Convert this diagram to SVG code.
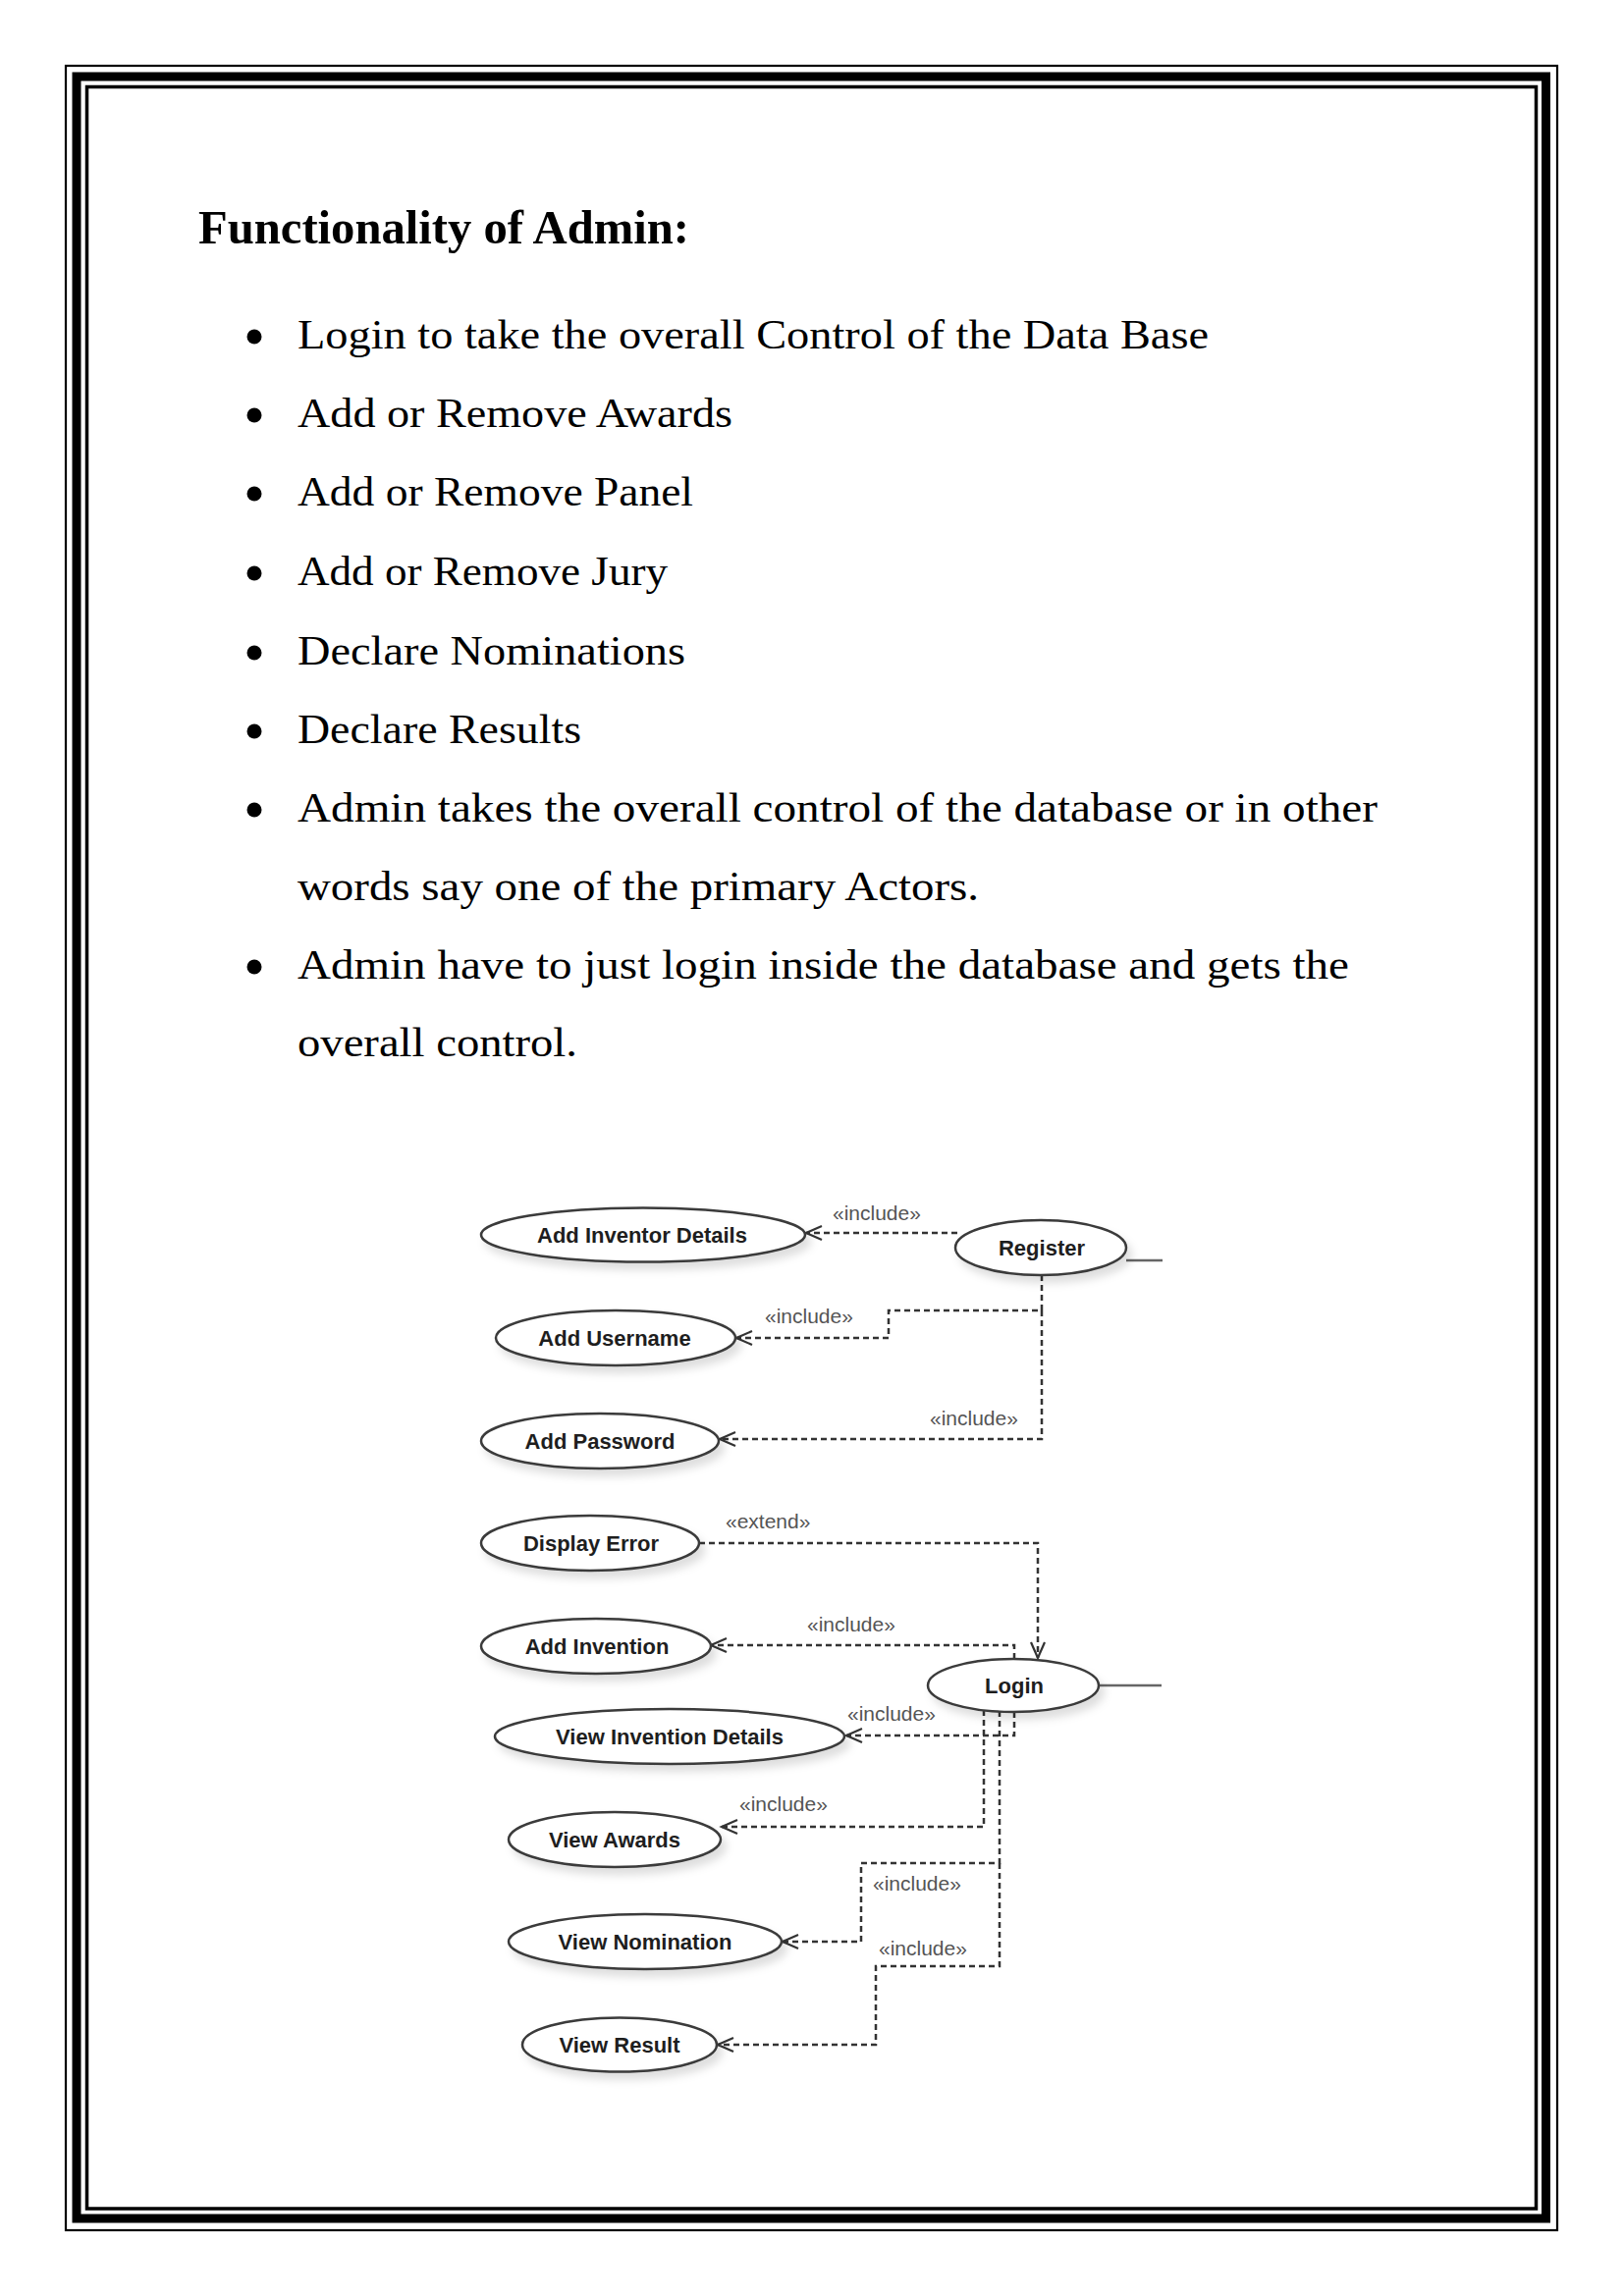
<svg xmlns="http://www.w3.org/2000/svg" width="1654" height="2339" viewBox="0 0 1654 2339">
<style>
.body{font-family:"Liberation Serif","Times New Roman",serif;font-size:43px;fill:#000}
.head{font-family:"Liberation Serif","Times New Roman",serif;font-size:48px;font-weight:bold;fill:#000}
.uc{fill:#fff;stroke:#3a3a3a;stroke-width:2.5}
.ul{font-family:"Liberation Sans",Arial,sans-serif;font-size:22px;font-weight:bold;fill:#1e1e1e;text-anchor:middle}
.st{font-family:"Liberation Sans",Arial,sans-serif;font-size:21px;fill:#555}
.dep{fill:none;stroke:#333;stroke-width:2.5;stroke-dasharray:6 4}
.assoc{fill:none;stroke:#666;stroke-width:2.5}
</style>
<defs>
<marker id="open" markerUnits="userSpaceOnUse" markerWidth="24" markerHeight="24" refX="20" refY="12" orient="auto">
<path d="M4,5 L20,12 L4,19" fill="none" stroke="#333" stroke-width="2.2" stroke-dasharray="none"/>
</marker>
<filter id="sh" x="-20%" y="-40%" width="150%" height="200%">
<feDropShadow dx="5" dy="7" stdDeviation="4" flood-color="#000" flood-opacity="0.13"/>
</filter>
</defs>
<rect width="1654" height="2339" fill="#fff"/>
<g id="frame" fill="none" stroke="#000">
<rect x="67" y="67" width="1519" height="2205" stroke-width="2.2"/>
<rect x="78" y="78" width="1496.5" height="2182" stroke-width="9"/>
<rect x="88.5" y="88.5" width="1476" height="2161.5" stroke-width="3.5"/>
</g>
<g id="text">
<text class="head" x="202" y="248" textLength="500" lengthAdjust="spacingAndGlyphs">Functionality of Admin:</text>
<g fill="#000">
<circle cx="259" cy="343" r="7.5"/>
<circle cx="259" cy="423" r="7.5"/>
<circle cx="259" cy="503" r="7.5"/>
<circle cx="259" cy="584" r="7.5"/>
<circle cx="259" cy="665" r="7.5"/>
<circle cx="259" cy="745" r="7.5"/>
<circle cx="259" cy="825" r="7.5"/>
<circle cx="259" cy="985" r="7.5"/>
</g>
<text class="body" x="303" y="355" textLength="928" lengthAdjust="spacingAndGlyphs">Login to take the overall Control of the Data Base</text>
<text class="body" x="303" y="435" textLength="443" lengthAdjust="spacingAndGlyphs">Add or Remove Awards</text>
<text class="body" x="303" y="515" textLength="403" lengthAdjust="spacingAndGlyphs">Add or Remove Panel</text>
<text class="body" x="303" y="596" textLength="377" lengthAdjust="spacingAndGlyphs">Add or Remove Jury</text>
<text class="body" x="303" y="677" textLength="395" lengthAdjust="spacingAndGlyphs">Declare Nominations</text>
<text class="body" x="303" y="757" textLength="289" lengthAdjust="spacingAndGlyphs">Declare Results</text>
<text class="body" x="303" y="837" textLength="1100" lengthAdjust="spacingAndGlyphs">Admin takes the overall control of the database or in other</text>
<text class="body" x="303" y="917" textLength="694" lengthAdjust="spacingAndGlyphs">words say one of the primary Actors.</text>
<text class="body" x="303" y="997" textLength="1071" lengthAdjust="spacingAndGlyphs">Admin have to just login inside the database and gets the</text>
<text class="body" x="303" y="1076" textLength="285" lengthAdjust="spacingAndGlyphs">overall control.</text>
</g>
<g id="connectors">
<line class="assoc" x1="1147" y1="1284" x2="1184" y2="1284"/>
<line class="assoc" x1="1119" y1="1717" x2="1183" y2="1717"/>
<path class="dep" d="M975,1256 L821,1256" marker-end="url(#open)"/>
<path class="dep" d="M1061,1299 L1061,1335 L905,1335 L905,1363 L750,1363" marker-end="url(#open)"/>
<path class="dep" d="M1061,1335 L1061,1466 L733,1466" marker-end="url(#open)"/>
<path class="dep" d="M712,1572 L1057,1572 L1057,1689" marker-end="url(#open)"/>
<path class="dep" d="M1033,1690 L1033,1676 L724,1676" marker-end="url(#open)"/>
<path class="dep" d="M1033,1744 L1033,1768 L862,1768" marker-end="url(#open)"/>
<path class="dep" d="M1002,1742 L1002,1861 L735,1861" marker-end="url(#open)"/>
<path class="dep" d="M1018,1743 L1018,1898 L877,1898 L877,1978 L797,1978" marker-end="url(#open)"/>
<path class="dep" d="M1018,1898 L1018,2003 L892,2003 L892,2083 L731,2083" marker-end="url(#open)"/>
<text class="st" x="848" y="1243">«include»</text>
<text class="st" x="779" y="1348">«include»</text>
<text class="st" x="947" y="1452">«include»</text>
<text class="st" x="739" y="1557">«extend»</text>
<text class="st" x="822" y="1662">«include»</text>
<text class="st" x="863" y="1753">«include»</text>
<text class="st" x="753" y="1845">«include»</text>
<text class="st" x="889" y="1926">«include»</text>
<text class="st" x="895" y="1992">«include»</text>
</g>
<g id="n-register"><ellipse class="uc" filter="url(#sh)" cx="1060" cy="1271" rx="87" ry="28"/><text class="ul" x="1061" y="1279">Register</text></g>
<g id="n-add-inventor"><ellipse class="uc" filter="url(#sh)" cx="655" cy="1258" rx="165" ry="27.5"/><text class="ul" x="654" y="1266">Add Inventor Details</text></g>
<g id="n-add-username"><ellipse class="uc" filter="url(#sh)" cx="627" cy="1363" rx="122" ry="28"/><text class="ul" x="626" y="1371">Add Username</text></g>
<g id="n-add-password"><ellipse class="uc" filter="url(#sh)" cx="611" cy="1468" rx="121" ry="28"/><text class="ul" x="611" y="1476">Add Password</text></g>
<g id="n-display-error"><ellipse class="uc" filter="url(#sh)" cx="601" cy="1572" rx="111" ry="28"/><text class="ul" x="602" y="1580">Display Error</text></g>
<g id="n-add-invention"><ellipse class="uc" filter="url(#sh)" cx="607" cy="1677" rx="117" ry="28"/><text class="ul" x="608" y="1685">Add Invention</text></g>
<g id="n-login"><ellipse class="uc" filter="url(#sh)" cx="1032" cy="1717" rx="87" ry="27"/><text class="ul" x="1033" y="1725">Login</text></g>
<g id="n-view-invention"><ellipse class="uc" filter="url(#sh)" cx="682" cy="1769" rx="178" ry="28"/><text class="ul" x="682" y="1777">View Invention Details</text></g>
<g id="n-view-awards"><ellipse class="uc" filter="url(#sh)" cx="626" cy="1874" rx="108" ry="28"/><text class="ul" x="626" y="1882">View Awards</text></g>
<g id="n-view-nomination"><ellipse class="uc" filter="url(#sh)" cx="657" cy="1978" rx="139" ry="28"/><text class="ul" x="657" y="1986">View Nomination</text></g>
<g id="n-view-result"><ellipse class="uc" filter="url(#sh)" cx="631" cy="2083" rx="99" ry="27.5"/><text class="ul" x="631" y="2091">View Result</text></g>
</svg>
